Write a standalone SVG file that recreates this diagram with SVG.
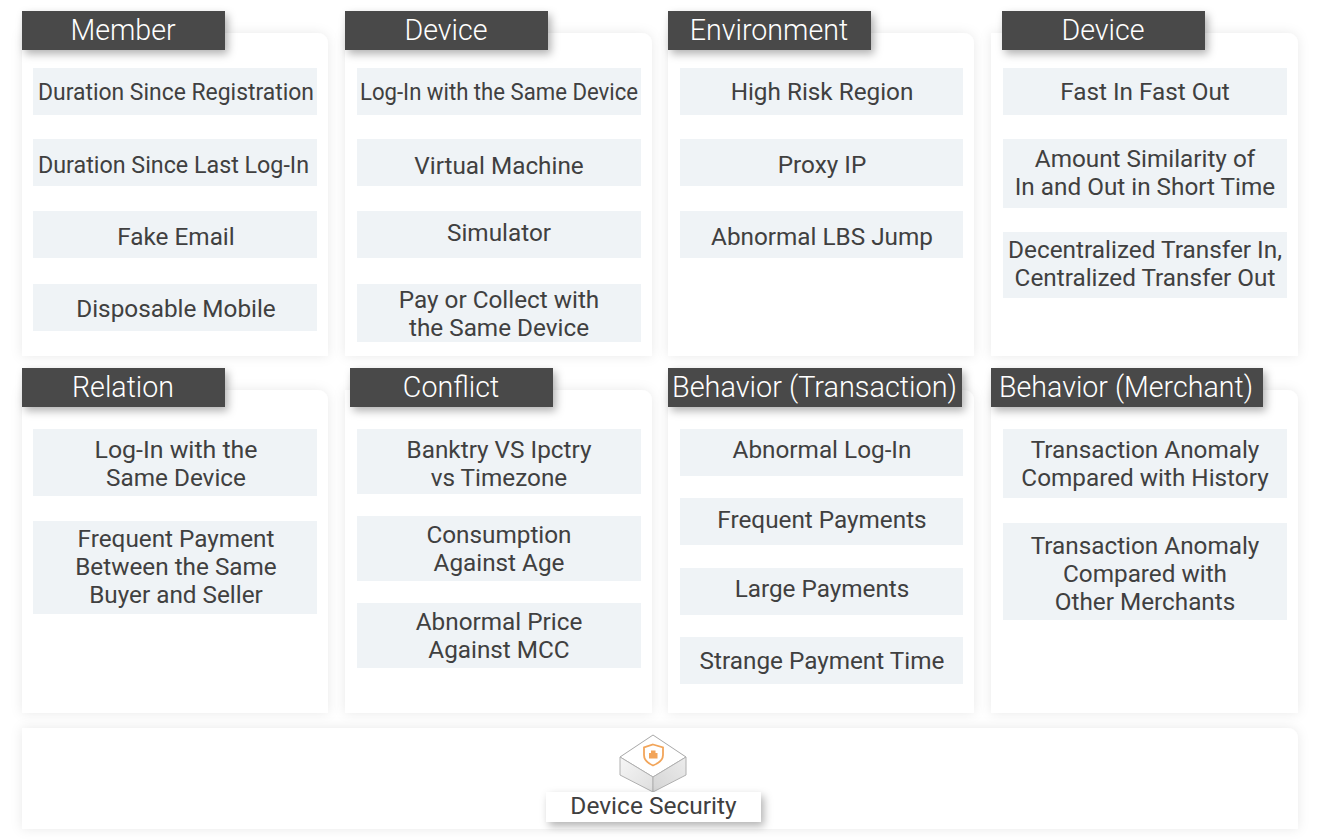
<svg xmlns="http://www.w3.org/2000/svg" width="1320" height="840" viewBox="0 0 1320 840">
<defs>
<filter id="cs" x="-10%" y="-10%" width="120%" height="120%"><feDropShadow dx="0" dy="0" stdDeviation="6" flood-color="#000" flood-opacity="0.09"/></filter>
<filter id="hs" x="-10%" y="-30%" width="120%" height="170%"><feDropShadow dx="3" dy="4" stdDeviation="4" flood-color="#000" flood-opacity="0.3"/></filter>
<linearGradient id="fl" x1="0" y1="0" x2="1" y2="1"><stop offset="0" stop-color="#f6f6f6"/><stop offset="1" stop-color="#dedede"/></linearGradient>
<linearGradient id="fr" x1="0" y1="1" x2="1" y2="0"><stop offset="0" stop-color="#d4d4d4"/><stop offset="1" stop-color="#ececec"/></linearGradient>
</defs>
<style>
.card{fill:#fff;filter:url(#cs)}
.head{fill:#4a4a4a;filter:url(#hs)}
.item{fill:#eff3f6}
text{font-family:Roboto,"Liberation Sans",sans-serif;text-anchor:middle}
.ht{font-size:28.600px;fill:#fff;font-weight:300}
.t{font-size:24.300px;fill:#404040}
</style>
<rect width="1320" height="840" fill="#fff"/>
<g id="member">
<path class="card" d="M22 33H316Q328 33 328 45V356H22Z"/>
<rect class="head" x="22" y="11" width="203" height="39"/><text class="ht" x="123" y="39.500">Member</text>
<rect class="item" x="33" y="68" width="284" height="47"/><text class="t" x="176" y="100" textLength="276" lengthAdjust="spacingAndGlyphs">Duration Since Registration</text>
<rect class="item" x="33" y="139" width="284" height="47"/><text class="t" x="173.500" y="172.500" textLength="271" lengthAdjust="spacingAndGlyphs">Duration Since Last Log-In</text>
<rect class="item" x="33" y="211" width="284" height="47"/><text class="t" x="176" y="244.500">Fake Email</text>
<rect class="item" x="33" y="284" width="284" height="47"/><text class="t" x="176" y="316.500">Disposable Mobile</text>
</g>
<g id="device-1">
<path class="card" d="M345 33H640Q652 33 652 45V356H345Z"/>
<rect class="head" x="345" y="11" width="203" height="39"/><text class="ht" x="446" y="39.500">Device</text>
<rect class="item" x="357" y="68" width="284" height="47"/><text class="t" x="499" y="100" textLength="278" lengthAdjust="spacingAndGlyphs">Log-In with the Same Device</text>
<rect class="item" x="357" y="139" width="284" height="47"/><text class="t" x="499" y="173.500">Virtual Machine</text>
<rect class="item" x="357" y="211" width="284" height="47"/><text class="t" x="499" y="241">Simulator</text>
<rect class="item" x="357" y="284" width="284" height="58"/><text class="t" x="499" y="307.500">Pay or Collect with</text><text class="t" x="499" y="335.500">the Same Device</text>
</g>
<g id="environment">
<path class="card" d="M668 33H962Q974 33 974 45V356H668Z"/>
<rect class="head" x="668" y="11" width="203" height="39"/><text class="ht" x="769" y="39.500">Environment</text>
<rect class="item" x="680" y="68" width="283" height="47"/><text class="t" x="822" y="100">High Risk Region</text>
<rect class="item" x="680" y="139" width="283" height="47"/><text class="t" x="822" y="172.500">Proxy IP</text>
<rect class="item" x="680" y="211" width="283" height="47"/><text class="t" x="822" y="244.500">Abnormal LBS Jump</text>
</g>
<g id="device-2">
<path class="card" d="M991 33H1286Q1298 33 1298 45V356H991Z"/>
<rect class="head" x="1002" y="11" width="203" height="39"/><text class="ht" x="1103" y="39.500">Device</text>
<rect class="item" x="1003" y="68" width="284" height="47"/><text class="t" x="1145" y="100">Fast In Fast Out</text>
<rect class="item" x="1003" y="139" width="284" height="69"/><text class="t" x="1145" y="166.500">Amount Similarity of</text><text class="t" x="1145" y="194.500">In and Out in Short Time</text>
<rect class="item" x="1003" y="232" width="284" height="66"/><text class="t" x="1145" y="258" textLength="274" lengthAdjust="spacingAndGlyphs">Decentralized Transfer In,</text><text class="t" x="1145" y="286">Centralized Transfer Out</text>
</g>
<g id="relation">
<path class="card" d="M22 390H316Q328 390 328 402V713H22Z"/>
<rect class="head" x="22" y="368" width="203" height="39"/><text class="ht" x="123" y="396.500">Relation</text>
<rect class="item" x="33" y="429" width="284" height="67"/><text class="t" x="176" y="457.500" textLength="163" lengthAdjust="spacingAndGlyphs">Log-In with the</text><text class="t" x="176" y="485.500">Same Device</text>
<rect class="item" x="33" y="521" width="284" height="93"/><text class="t" x="176" y="546.500">Frequent Payment</text><text class="t" x="176" y="574.500">Between the Same</text><text class="t" x="176" y="602.500">Buyer and Seller</text>
</g>
<g id="conflict">
<path class="card" d="M345 390H640Q652 390 652 402V713H345Z"/>
<rect class="head" x="350" y="368" width="203" height="39"/><text class="ht" x="451" y="396.500">Conflict</text>
<rect class="item" x="357" y="429" width="284" height="65"/><text class="t" x="499" y="457.500">Banktry VS Ipctry</text><text class="t" x="499" y="485.500">vs Timezone</text>
<rect class="item" x="357" y="516" width="284" height="65"/><text class="t" x="499" y="542.500">Consumption</text><text class="t" x="499" y="570.500">Against Age</text>
<rect class="item" x="357" y="603" width="284" height="65"/><text class="t" x="499" y="629.500">Abnormal Price</text><text class="t" x="499" y="657.500">Against MCC</text>
</g>
<g id="behavior-transaction">
<path class="card" d="M668 390H962Q974 390 974 402V713H668Z"/>
<rect class="head" x="668" y="368" width="294" height="39"/><text class="ht" x="814.500" y="396.500" textLength="285" lengthAdjust="spacingAndGlyphs">Behavior (Transaction)</text>
<rect class="item" x="680" y="429" width="283" height="47"/><text class="t" x="822" y="457.500">Abnormal Log-In</text>
<rect class="item" x="680" y="498" width="283" height="47"/><text class="t" x="822" y="527.500">Frequent Payments</text>
<rect class="item" x="680" y="568" width="283" height="47"/><text class="t" x="822" y="596.500">Large Payments</text>
<rect class="item" x="680" y="637" width="283" height="47"/><text class="t" x="822" y="668.500">Strange Payment Time</text>
</g>
<g id="behavior-merchant">
<path class="card" d="M991 390H1286Q1298 390 1298 402V713H991Z"/>
<rect class="head" x="991" y="368" width="272" height="39"/><text class="ht" x="1126" y="396.500" textLength="254" lengthAdjust="spacingAndGlyphs">Behavior (Merchant)</text>
<rect class="item" x="1003" y="429" width="284" height="69"/><text class="t" x="1145" y="457.500">Transaction Anomaly</text><text class="t" x="1145" y="485.500">Compared with History</text>
<rect class="item" x="1003" y="523" width="284" height="97"/><text class="t" x="1145" y="553.500">Transaction Anomaly</text><text class="t" x="1145" y="581.500">Compared with</text><text class="t" x="1145" y="609.500">Other Merchants</text>
</g>
<g id="device-security">
<path class="card" d="M22 728H1286Q1298 728 1298 740V829H22Z"/>
<path d="M620 757L653 735L686 757L653 777Z" fill="#fff" stroke="#a8a8a8" stroke-width="1"/>
<path d="M620 757L653 777V792L620 775Z" fill="url(#fl)" stroke="#b0b0b0" stroke-width="1"/>
<path d="M686 757L653 777V792L686 775Z" fill="url(#fr)" stroke="#b0b0b0" stroke-width="1"/>
<path d="M653 744.500L663 747.500V755Q663 761.500 653 765.500Q644 761.500 644 755V747.500Z" fill="#fff" stroke="#f2a55a" stroke-width="1.800"/>
<path d="M649 753H657.500V758.500H649Z M651 753V750.500H655.500V753" fill="#f2a55a"/>
<rect x="546" y="792" width="215" height="30" fill="#fff" filter="url(#hs)"/>
<text class="t" x="653.500" y="813.500" style="font-size:24.500px">Device Security</text>
</g>
<g id="connectors"/>
</svg>
